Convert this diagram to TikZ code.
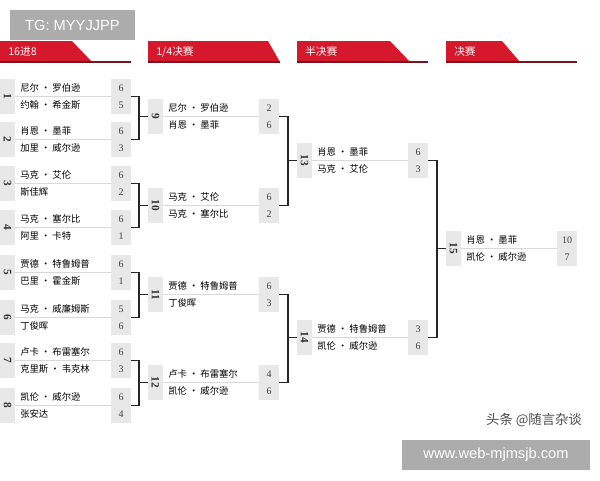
\documentclass[tikz,border=0pt]{standalone}
\usepackage{fontspec}
\newfontfamily\cjk{Noto Sans CJK SC}
\newfontfamily\sans{Liberation Sans}
\setmainfont{Liberation Serif}
\begin{document}
\begin{tikzpicture}[x=0.75pt,y=-0.75pt,
  box/.style={fill=gray!18,draw=none},
  nm/.style={anchor=west,font=\cjk\fontsize{7}{8}\selectfont,inner sep=0},
  sc/.style={font=\fontsize{7.5}{8}\selectfont,inner sep=0,text=black!75},
  num/.style={font=\fontsize{8.5}{9}\selectfont\bfseries,rotate=-90,inner sep=0,text=black!80},
  br/.style={draw=black!85,line width=0.8pt},
  hd/.style={fill=red!75!black!90!white},
  ht/.style={anchor=west,text=white,font=\cjk\fontsize{8}{9}\selectfont,inner sep=0}]
\useasboundingbox (0,0) rectangle (600,480);
\fill[white] (0,0) rectangle (600,480);
\definecolor{hred}{RGB}{214,24,44}
\definecolor{dred}{RGB}{120,20,30}
% match macro: #1 id, #2 x0, #3 ytop, #4 number, #5 name1, #6 s1, #7 name2, #8 s2
\newcommand\mymatch[8]{%
  \fill[box] (#2,#3) rectangle ++(15,35);
  \fill[box] (#2+111,#3) rectangle ++(20,35);
  \draw[gray!30,line width=0.6pt] (#2+15,#3+17.5) -- (#2+111,#3+17.5);
  \node[num] (#1n) at (#2+7.5,#3+17.5) {#4};
  \node[nm] (#1a) at (#2+20,#3+9) {#5};
  \node[nm] (#1b) at (#2+20,#3+26) {#7};
  \node[sc] (#1s) at (#2+121,#3+9) {#6};
  \node[sc] (#1t) at (#2+121,#3+26) {#8};
  \coordinate (#1o) at (#2+131,#3+17.5);
  \coordinate (#1i) at (#2,#3+17.5);
}
% headers
\newcommand\hdr[5]{% x0, redtop end, redbottom end, line end, text
  \fill[hred] (#1,41) -- (#2,41) -- (#3,62) -- (#1,62) -- cycle;
  \fill[dred] (#1,60.5) rectangle (#4,62.5);
  \node[ht] at (#1+8,51.5) {#5};
}
\hdr{0}{72}{92}{131}{16进8}
\hdr{148}{268}{280}{280}{1/4决赛}
\hdr{297}{390}{410}{428}{半决赛}
\hdr{446}{502}{520}{577}{决赛}
% round 1
\mymatch{m1}{0}{79}{1}{尼尔 · 罗伯逊}{6}{约翰 · 希金斯}{5}
\mymatch{m2}{0}{122}{2}{肖恩 · 墨菲}{6}{加里 · 威尔逊}{3}
\mymatch{m3}{0}{166}{3}{马克 · 艾伦}{6}{斯佳辉}{2}
\mymatch{m4}{0}{210}{4}{马克 · 塞尔比}{6}{阿里 · 卡特}{1}
\mymatch{m5}{0}{255}{5}{贾德 · 特鲁姆普}{6}{巴里 · 霍金斯}{1}
\mymatch{m6}{0}{300}{6}{马克 · 威廉姆斯}{5}{丁俊晖}{6}
\mymatch{m7}{0}{343}{7}{卢卡 · 布雷塞尔}{6}{克里斯 · 韦克林}{3}
\mymatch{m8}{0}{388}{8}{凯伦 · 威尔逊}{6}{张安达}{4}
% round 2
\mymatch{m9}{148}{99}{9}{尼尔 · 罗伯逊}{2}{肖恩 · 墨菲}{6}
\mymatch{m10}{148}{188}{10}{马克 · 艾伦}{6}{马克 · 塞尔比}{2}
\mymatch{m11}{148}{277}{11}{贾德 · 特鲁姆普}{6}{丁俊晖}{3}
\mymatch{m12}{148}{365}{12}{卢卡 · 布雷塞尔}{4}{凯伦 · 威尔逊}{6}
% round 3
\mymatch{m13}{297}{143}{13}{肖恩 · 墨菲}{6}{马克 · 艾伦}{3}
\mymatch{m14}{297}{320}{14}{贾德 · 特鲁姆普}{3}{凯伦 · 威尔逊}{6}
% final
\mymatch{m15}{446}{231}{15}{肖恩 · 墨菲}{10}{凯伦 · 威尔逊}{7}
% brackets
\newcommand\brk[4]{% a, b, target, x of vertical
  \draw[br] (#1o) -| (#4,0 |- #2o) -- (#2o);
  \draw[br] (#4,0 |- #3i) -- (#3i);
}
\brk{m1}{m2}{m9}{139}
\brk{m3}{m4}{m10}{139}
\brk{m5}{m6}{m11}{139}
\brk{m7}{m8}{m12}{139}
\brk{m9}{m10}{m13}{288}
\brk{m11}{m12}{m14}{288}
\brk{m13}{m14}{m15}{437}
% watermarks
\fill[gray!65] (10,10) rectangle (135,40);
\node[text=white,font=\sans\fontsize{11}{12}\selectfont] (tg) at (72.5,25) {TG: MYYJJPP};
\node[text=black!70,font=\cjk\fontsize{10}{11}\selectfont] (tt) at (534,420) {头条 @随言杂谈};
\fill[gray!65] (402,440) rectangle (590,470);
\node[text=white,font=\sans\fontsize{11}{12}\selectfont] (www) at (496,455) {www.web-mjmsjb.com};
\end{tikzpicture}
\end{document}
